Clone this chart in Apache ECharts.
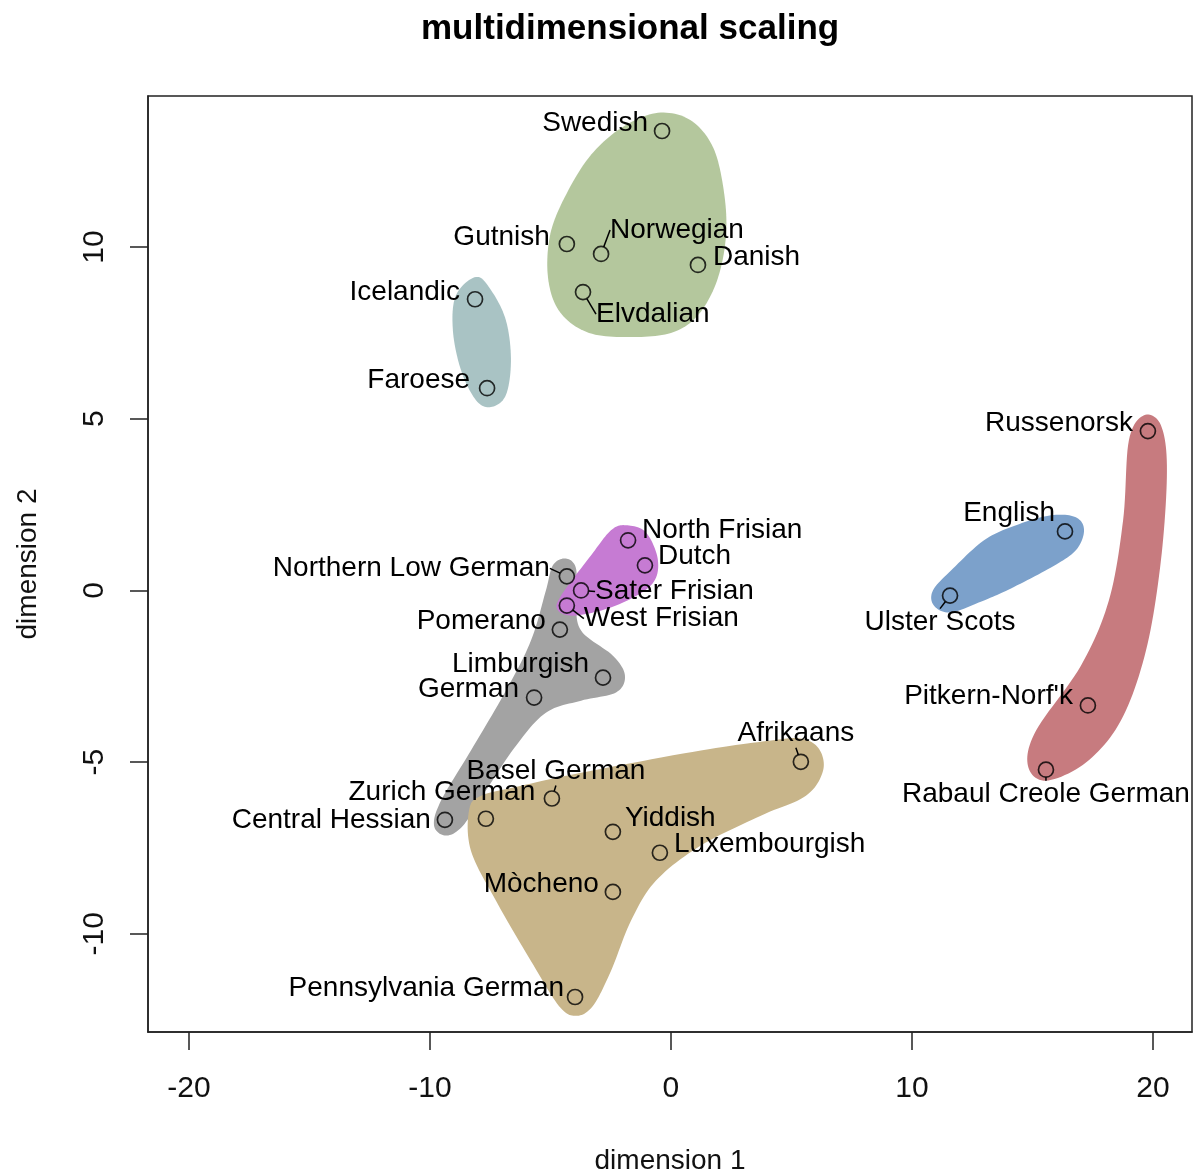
<!DOCTYPE html>
<html>
<head>
<meta charset="utf-8">
<script src="https://cdn.jsdelivr.net/npm/echarts@6/dist/echarts.min.js"></script>
<style>
html,body{margin:0;padding:0;background:#fff;}
#chart{width:1197px;height:1176px;}
</style>
</head>
<body>
<div id="chart"></div>
<script>
// ---- data ----
const languages = ["Swedish","Gutnish","Norwegian","Danish","Elvdalian","Icelandic","Faroese",
  "Russenorsk","English","Ulster Scots","North Frisian","Dutch","Northern Low German","Sater Frisian",
  "West Frisian","Pomerano","Limburgish","German","Pitkern-Norf'k","Afrikaans","Rabaul Creole German",
  "Basel German","Zurich German","Central Hessian","Yiddish","Luxembourgish","Mòcheno","Pennsylvania German"];
const dim1 = [-0.37,-4.32,-2.90,1.12,-3.65,-8.13,-7.63,
  19.79,16.35,11.58,-1.78,-1.08,-4.32,-3.73,
  -4.32,-4.61,-2.82,-5.68,17.30,5.39,15.56,
  -4.94,-7.68,-9.38,-2.41,-0.46,-2.41,-3.98];
const dim2 = [13.38,10.09,9.80,9.48,8.69,8.48,5.89,
  4.64,1.72,-0.15,1.46,0.73,0.41,0.00,
  -0.44,-1.14,-2.54,-3.12,-3.35,-4.99,-5.22,
  -6.06,-6.65,-6.68,-7.03,-7.64,-8.78,-11.84];
const xTicks = [-20,-10,0,10,20];
const yTicks = [-10,-5,0,5,10];

// cluster outlines (data units)
const hullNordic = [[-0.54,13.91],[0.80,13.70],[1.75,12.90],[2.20,11.60],[2.28,10.30],[1.90,9.00],[1.10,8.00],
  [0,7.50],[-1.66,7.38],[-3.40,7.50],[-4.60,8.10],[-5.10,9.10],[-5.00,10.40],[-4.30,11.60],[-3.30,12.70],[-2.00,13.50]];
const hullInsular = [[-8.09,9.13],[-7.47,8.75],[-6.85,7.87],[-6.64,6.71],[-6.85,5.69],[-7.47,5.34],
  [-8.09,5.54],[-8.71,6.41],[-9.05,7.58],[-8.92,8.60]];
const hullEnglish = [[15.77,2.19],[16.80,2.13],[17.14,1.75],[16.80,1.17],[15.77,0.67],[14.11,0.06],
  [12.99,-0.29],[11.62,-0.64],[10.91,-0.44],[10.87,0],[11.62,0.58],[12.99,1.46],[14.32,1.90]];
const hullContact = [[19.63,5.10],[20.33,4.81],[20.58,3.50],[20.33,0.87],[19.71,-1.75],[18.67,-3.79],
  [17.22,-5.01],[15.56,-5.54],[14.81,-5.10],[15.15,-4.08],[17.01,-2.19],[18.17,-0.29],[18.76,2.04],[19.00,4.37]];
const hullFrisian = [[-1.87,1.90],[-1.04,1.69],[-0.54,0.87],[-0.83,0.15],[-2.28,-0.44],[-3.94,-0.73],
  [-4.69,-0.58],[-4.56,-0.15],[-3.32,1.02],[-2.49,1.75]];
const hullLowGerman = [[-4.36,0.93],[-3.94,0.64],[-3.94,-0.29],[-3.73,-1.17],[-2.41,-1.90],[-1.91,-2.48],
  [-2.28,-2.97],[-3.73,-3.21],[-5.19,-3.56],[-6.43,-4.52],[-7.68,-5.83],[-8.63,-6.85],[-9.34,-7.14],
  [-9.83,-6.85],[-9.54,-6.12],[-8.30,-4.66],[-6.85,-2.92],[-5.81,-1.46],[-5.19,0],[-4.90,0.73]];
const hullHighGerman = [[5.39,-4.31],[6.14,-4.61],[6.31,-5.25],[5.60,-5.98],[3.73,-6.56],[1.24,-7.43],
  [-0.62,-8.45],[-1.66,-9.62],[-2.49,-11.08],[-3.24,-12.10],[-3.94,-12.39],[-4.65,-12.10],[-5.81,-10.79],
  [-7.26,-9.04],[-8.30,-7.58],[-8.38,-6.41],[-7.88,-5.98],[-6.22,-5.69],[-3.73,-5.31],[1.24,-4.66],[4.15,-4.37]];

// ---- styling / layout (not data) ----
const hulls = [
  {pts: hullNordic, color: '#b4c79d'},
  {pts: hullInsular, color: '#a9c3c4'},
  {pts: hullEnglish, color: '#7ca1cb'},
  {pts: hullContact, color: '#c77b7f'},
  {pts: hullLowGerman, color: '#a3a3a3'},
  {pts: hullFrisian, color: '#c67bd3'},
  {pts: hullHighGerman, color: '#c8b58a'}
];
// label placement: [align, dx, dy, leader]
const labelPlace = [
  ['right',-14,-8,0],['right',-17,-7,0],['left',9,-24,1],['left',15,-8,0],['left',13,22,1],['right',-15,-7,0],['right',-17,-8,0],
  ['right',-15,-8,0],['right',-10,-18,0],['center',-10,27,1],['left',14,-10,0],['left',13,-9,0],['right',-17,-8,1],['left',14,1,1],
  ['left',17,13,1],['right',-14,-8,0],['right',-14,-13,0],['right',-15,-8,0],['right',-15,-9,0],['center',-5,-28,1],['center',0,25,1],
  ['center',4,-27,1],['center',-44,-26,0],['right',-14,0,0],['left',12,-14,0],['left',14,-8,0],['right',-14,-8,0],['right',-11,-9,0]
];

// closed Catmull-Rom smoothing of a pixel outline (rendering helper)
function smoothClosed(pts, steps) {
  const out = [];
  const n = pts.length;
  for (let i = 0; i < n; i++) {
    const p0 = pts[(i - 1 + n) % n], p1 = pts[i], p2 = pts[(i + 1) % n], p3 = pts[(i + 2) % n];
    for (let s = 0; s < steps; s++) {
      const t = s / steps, t2 = t * t, t3 = t2 * t;
      const f = (a, b, c, d) => 0.5 * ((2 * b) + (-a + c) * t + (2 * a - 5 * b + 4 * c - d) * t2 + (-a + 3 * b - 3 * c + d) * t3);
      out.push([f(p0[0], p1[0], p2[0], p3[0]), f(p0[1], p1[1], p2[1], p3[1])]);
    }
  }
  return out;
}

const FONT = '"Liberation Sans", Arial, Helvetica, sans-serif';
const chart = echarts.init(document.getElementById('chart'), null, {renderer: 'canvas'});

const hullSeries = hulls.map(h => ({
  type: 'custom',
  silent: true,
  clip: true,
  z: 1,
  data: [[0, 0]],
  renderItem: function (params, api) {
    const pts = smoothClosed(h.pts.map(p => api.coord(p)), 12);
    return {type: 'polygon', shape: {points: pts}, style: {fill: h.color}};
  }
}));

const scatterData = languages.map((n, i) => {
  const lp = labelPlace[i];
  return {
    name: n,
    value: [dim1[i], dim2[i]],
    label: {align: lp[0]},
    labelLine: {show: !!lp[3]}
  };
});

chart.setOption({
  animation: false,
  backgroundColor: '#ffffff',
  title: {
    text: 'multidimensional scaling',
    left: 416,
    top: 7,
    textStyle: {fontFamily: FONT, fontSize: 35, fontWeight: 'bold', color: '#000'}
  },
  grid: {left: 148, right: 5, top: 96, bottom: 144, show: true, borderColor: '#222', borderWidth: 1.5,
    backgroundColor: 'transparent', outerBoundsMode: 'none', containLabel: false},
  xAxis: {
    type: 'value', min: -21.7, max: 21.62,
    name: 'dimension 1', nameLocation: 'middle', nameGap: 115,
    nameTextStyle: {fontFamily: FONT, fontSize: 28, color: '#111'},
    axisLine: {show: true, onZero: false, lineStyle: {color: '#222', width: 1.5}},
    axisTick: {show: true, inside: false, length: 18, lineStyle: {color: '#222', width: 1.5}, customValues: xTicks},
    axisLabel: {fontFamily: FONT, fontSize: 30, color: '#111', margin: 42, customValues: xTicks},
    splitLine: {show: false}
  },
  yAxis: {
    type: 'value', min: -12.86, max: 14.4,
    name: 'dimension 2', nameLocation: 'middle', nameGap: 106, nameRotate: 90,
    nameTextStyle: {fontFamily: FONT, fontSize: 28, color: '#111'},
    axisLine: {show: true, onZero: false, lineStyle: {color: '#222', width: 1.5}},
    axisTick: {show: true, inside: false, length: 18, lineStyle: {color: '#222', width: 1.5}, customValues: yTicks},
    axisLabel: {fontFamily: FONT, fontSize: 30, color: '#111', margin: 38, rotate: 90, customValues: yTicks},
    splitLine: {show: false}
  },
  series: hullSeries.concat([{
    type: 'scatter',
    z: 5,
    symbol: 'circle',
    symbolSize: 15,
    itemStyle: {color: 'rgba(0,0,0,0)', borderColor: '#000', borderWidth: 1.7},
    data: scatterData,
    label: {
      show: true,
      position: 'inside',
      verticalAlign: 'middle',
      formatter: '{b}',
      fontFamily: FONT,
      fontSize: 28,
      color: '#000',
      textBorderWidth: 0,
      textBorderColor: 'transparent',
      opacity: 1
    },
    labelLine: {show: false, lineStyle: {color: '#000', width: 1.5}},
    labelLayout: function (p) {
      const lp = labelPlace[p.dataIndex];
      return {dx: lp[1], dy: lp[2]};
    }
  }])
});
</script>
</body>
</html>
